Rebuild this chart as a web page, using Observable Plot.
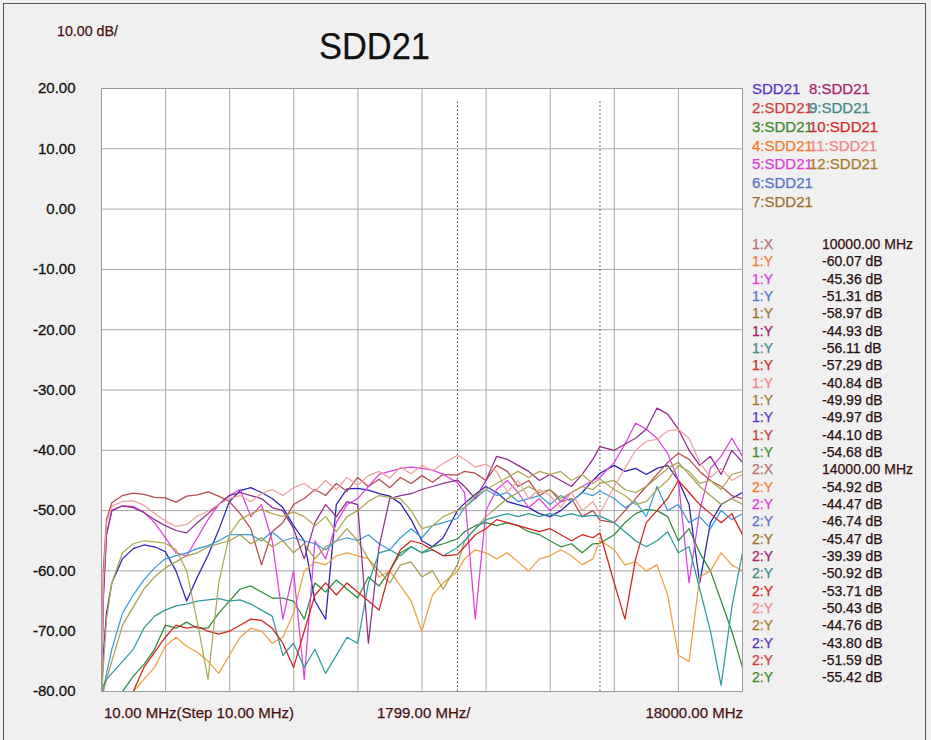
<!DOCTYPE html>
<html><head><meta charset="utf-8">
<script src="https://cdn.jsdelivr.net/npm/d3@7"></script>
<script src="https://cdn.jsdelivr.net/npm/@observablehq/plot@0.6"></script>
<style>
html,body{margin:0;padding:0;background:#f0f0f0;}
#wrap{position:relative;width:931px;height:740px;overflow:hidden;background:#f0f0f0;font-family:"Liberation Sans",Arial,sans-serif;}
#wrap svg{position:absolute;left:0;top:0;}
#wrap svg g[aria-label="y-axis tick label"] text{stroke:#111;stroke-width:0.3px;}
.t{position:absolute;white-space:nowrap;line-height:1;-webkit-text-stroke:0.25px currentColor;}
#border{position:absolute;left:3px;top:3px;width:923px;height:740px;border:1px solid #555;box-sizing:border-box;}
</style></head><body><div id="wrap"><div id="border"></div></div>
<script>
// ---------- DATA ----------
const freqs = [10, 60, 150, 300, 600, 900, 1200, 1500, 1800, 2100, 2400, 2700, 3000, 3300, 3600, 3900, 4200, 4500, 4800, 5100, 5400, 5700, 6000, 6300, 6600, 6900, 7200, 7500, 7800, 8100, 8400, 8700, 9000, 9300, 9600, 10000, 10200, 10500, 10800, 11100, 11400, 11700, 12000, 12300, 12600, 12900, 13200, 13500, 13800, 14000, 14400, 14700, 15000, 15300, 15600, 15900, 16200, 16500, 16800, 17100, 17400, 17700, 18000];

const sdd1 = [-81, -74, -67, -62, -58, -56.3, -55.7, -56, -56.8, -60, -65, -61, -57.4, -53.2, -48.5, -46.7, -46.2, -47, -48, -49.5, -52.5, -55, -65, -68, -49, -46.4, -46.3, -46.6, -47.2, -47.6, -48.8, -51.5, -55, -56, -54.5, -49.97, -48.8, -47.3, -46, -47, -48.5, -49, -49.5, -50.5, -51, -50, -48.5, -47, -45, -43.8, -42.5, -43.5, -43, -44, -43, -42.5, -45, -49, -62, -52, -49, -48, -47];
const sdd2 = [-81, -60, -51.5, -48.7, -47.5, -47.1, -47.3, -47.8, -47.9, -48.6, -47.6, -47.4, -46.9, -47.6, -48.5, -50.5, -53, -59, -53.5, -52, -49, -48, -46.5, -47.5, -45.5, -46.8, -44.5, -46, -44.8, -46.2, -44.5, -45.5, -44.2, -45.3, -44, -44.10, -43.5, -43.8, -45, -42.5, -43.5, -46, -45, -47.5, -46.5, -48.5, -48, -51, -50, -51.59, -52, -50, -48, -46, -44, -42, -40.5, -41.5, -43.5, -45, -46, -47.5, -48];
const sdd3 = [-81, -81, -81, -81, -80, -77.5, -75.5, -73, -69, -69.5, -68.5, -69.5, -69.5, -67, -65, -63, -62.5, -63.5, -64.5, -64.5, -65, -68, -62, -63.5, -61.5, -63, -64.5, -61, -62.5, -60, -57, -56, -57, -56, -55.5, -54.68, -53.5, -52.5, -52, -52.5, -52, -52.5, -53.5, -54, -55, -56, -55.5, -57, -55.5, -55.42, -54, -52, -50.5, -49.8, -50, -51, -55, -53, -57, -60, -65, -70, -76];
const sdd4 = [-81, -81, -81, -81, -81, -80, -78, -76, -72.5, -71, -72.5, -73.5, -75, -77, -74, -71, -69.5, -70, -72, -71, -67, -60, -58.5, -59, -57.5, -57, -57.5, -58, -61, -60, -62.5, -65, -70, -64, -62, -60.07, -58, -56.5, -57, -58, -57, -58.5, -60, -58, -57.5, -56.5, -57.5, -59, -58, -54.92, -56.5, -59, -58.5, -60, -59, -64, -74, -75, -61, -60, -57, -59, -60];
const sdd5 = [-81, -64, -54, -50, -49.2, -49.3, -50.3, -52, -54.5, -57, -57.5, -54.5, -51.5, -49, -47.5, -46.5, -51, -49, -55, -68, -60, -78, -55, -58, -52, -49, -48, -46, -44, -43.5, -43, -42.8, -43, -43.3, -44, -45.36, -47, -68, -50, -46.5, -45, -47, -49.5, -48, -50, -48.5, -47, -46, -45, -44.47, -42, -39, -35.5, -36.5, -38, -40.5, -45, -62, -50, -43, -41, -38, -41];
const sdd6 = [-81, -80, -77, -73, -67, -64, -61.5, -59.5, -58, -57.5, -57, -56.3, -55.8, -55, -54, -54, -54, -55, -53.5, -55, -54.5, -55, -55.5, -56.5, -55, -54.5, -55, -54, -55.5, -56.5, -54.5, -53, -54.5, -52.5, -52, -51.31, -49.5, -48, -46.5, -47.5, -47, -48.5, -48, -47.5, -49, -47.5, -48.5, -47, -47.5, -46.74, -48, -49.5, -48.5, -51, -46, -50, -49, -52, -51, -53, -50, -51.5, -50.5];
const sdd7 = [-81, -80, -78, -75, -69, -66, -63, -61, -59.5, -58.5, -57.5, -57, -56, -55.5, -55, -54, -55.5, -54.5, -56, -55, -57, -55.5, -58, -56, -55, -53, -55, -58, -60, -62, -59, -58.5, -61, -60, -63, -58.97, -55, -53, -51, -49.5, -48, -47, -46, -47, -46.5, -48, -47, -46, -46.5, -45.47, -45, -46.5, -47, -46, -44.5, -43, -42, -44, -46, -47.5, -49, -48, -49];
const sdd8 = [-81, -65, -54, -50, -49.2, -49.5, -50.3, -51.5, -52.5, -53.3, -53.7, -52, -50.5, -49, -47.5, -47, -47.5, -48, -49.5, -50, -53, -58, -52, -49, -51, -48.5, -49, -72, -56, -48, -47.5, -47.2, -46.5, -46, -45.5, -44.93, -46, -48, -45, -41, -41.5, -42.5, -43.5, -45, -44, -45, -46, -44, -41.5, -39.39, -40, -39, -38, -36.5, -33, -34, -36.5, -40, -42.5, -41, -44, -40, -42];
const sdd9 = [-81, -79, -78, -77, -75, -73, -69.5, -67.5, -66.5, -65.8, -65.5, -65, -64.8, -64.6, -65, -64.8, -65.5, -66.5, -67.5, -74, -72, -76, -73, -77, -74, -71, -72, -62, -57, -56.5, -57.5, -56, -57, -56.5, -57.5, -56.11, -55, -53, -51.5, -51, -50.5, -51, -50.5, -51, -50.5, -51, -50.5, -51, -50.8, -50.92, -52, -53.5, -55, -56, -55, -53.5, -57, -56, -63, -70, -79, -66, -57];
const sdd10 = [-81, -81, -81, -81, -81, -80, -76, -73.5, -71, -69, -69.5, -69.2, -70, -70.5, -70, -69, -68, -68.2, -69.5, -72, -76, -70, -64, -62, -64, -62, -63.5, -65, -66.5, -60, -56.5, -55, -55.5, -56.5, -57.5, -57.29, -56, -54, -53, -51.5, -52, -52.5, -53, -53.5, -53, -54, -55, -54, -54.5, -53.71, -62, -68, -58, -52, -50, -48, -45, -47, -49, -50.5, -52, -50.5, -54];
const sdd11 = [-81, -62, -52, -49.3, -48.5, -48.4, -49.1, -50.5, -51.7, -52.6, -52.3, -50.9, -50.1, -49, -48, -47.5, -48.5, -47.2, -46.5, -47.5, -46.2, -45.5, -46.8, -45, -46.5, -44.5, -45.8, -44.2, -43.5, -44.6, -42.8, -43.9, -42.5, -43.4, -42.2, -40.84, -41.5, -42.8, -42.3, -43.5, -47, -45, -48, -46.5, -47.5, -49.5, -47, -50, -48.5, -50.43, -46, -43, -40, -38.5, -38.2, -36.8, -36.5, -38, -42, -44.5, -43, -45, -44];
const sdd12 = [-81, -76, -68, -62, -57, -55.5, -55, -55.2, -55.4, -56.5, -60, -68.5, -78, -62, -54, -51.5, -50.5, -49.8, -50.5, -51, -50.2, -51, -52.5, -51, -53.5, -51, -50, -48.5, -47.5, -47.8, -48, -50, -53, -52.5, -51, -49.99, -49.5, -47.5, -46.5, -45.5, -44.5, -43.5, -44.5, -43.5, -44, -43.5, -45, -44, -45.5, -44.76, -46.5, -47.5, -49, -48.5, -46.5, -45, -42.5, -43.5, -45.5, -45, -46.5, -44, -43.5];

const series = [sdd1, sdd2, sdd3, sdd4, sdd5, sdd6, sdd7, sdd8, sdd9, sdd10, sdd11, sdd12];
const seriesNames = ["SDD21", "2:SDD21", "3:SDD21", "4:SDD21", "5:SDD21", "6:SDD21", "7:SDD21", "8:SDD21", "9:SDD21", "10:SDD21", "11:SDD21", "12:SDD21"];

const yTicks = [20, 10, 0, -10, -20, -30, -40, -50, -60, -70, -80];
const xGridTicks = [10, 1809, 3608, 5407, 7206, 9005, 10804, 12603, 14402, 16201, 18000];
const markerFreqs = [10000, 14000];
const markerTop = 18;
const markerOrder = [4, 5, 6, 7, 8, 9, 10, 11, 12, 1, 2, 3];
const marker1Values = [-60.07, -45.36, -51.31, -58.97, -44.93, -56.11, -57.29, -40.84, -49.99, -49.97, -44.10, -54.68];
const marker2Values = [-54.92, -44.47, -46.74, -45.47, -39.39, -50.92, -53.71, -50.43, -44.76, -43.80, -51.59, -55.42];
const xLabels = ["10.00 MHz(Step 10.00 MHz)", "1799.00 MHz/", "18000.00 MHz"];
const scaleLabel = "10.00 dB/";
const titleText = "SDD21";

// ---------- STYLE ----------
const lineColors = ["#2b22b5", "#b84a4a", "#2e8b3a", "#f0a040", "#e040e0", "#3b9bd5", "#a5a050", "#8e2e8e", "#2e9a9a", "#d42020", "#f0a0a0", "#b0a850"];
const textColors = ["#5b33c8", "#d23c3c", "#3f8a2a", "#f07d2d", "#e03ad8", "#5573c5", "#a06e28", "#a8206e", "#3f8888", "#d42828", "#f08585", "#a87a28"];

// ---------- CHART ----------
const rows = [];
series.forEach((vals, k) => vals.forEach((v, i) => rows.push({f: freqs[i], db: v, s: k})));

const lineMarks = series.map((vals, k) =>
  Plot.line(rows.filter(r => r.s === k), {x: "f", y: "db", stroke: lineColors[k], strokeWidth: 1.25, clip: true})
);

const chart = Plot.plot({
  width: 931, height: 740,
  marginLeft: 101, marginRight: 189, marginTop: 88, marginBottom: 49,
  x: {domain: [10, 18000], axis: null},
  y: {domain: [-80, 20], ticks: yTicks, tickFormat: d => d.toFixed(2), tickSize: 0, tickPadding: 26, label: null},
  style: {background: "transparent", fontSize: "15px", color: "#111", fontFamily: "'Liberation Sans', Arial, sans-serif"},
  marks: [
    Plot.frame({fill: "white", stroke: "none"}),
    Plot.ruleX(xGridTicks, {stroke: "#a8a8a8", strokeWidth: 1}),
    Plot.ruleY(yTicks, {stroke: "#a8a8a8", strokeWidth: 1}),
    Plot.ruleX(markerFreqs, {y1: -80, y2: markerTop, stroke: "#444", strokeDasharray: "1.5,2.5", strokeWidth: 1}),
    ...lineMarks,
    Plot.frame({stroke: "#999"})
  ]
});
const wrap = document.getElementById("wrap");
wrap.appendChild(chart);

function addText(txt, x, cy, size, color, opts = {}) {
  const d = document.createElement("div");
  d.className = "t";
  d.textContent = txt;
  d.style.fontSize = size + "px";
  d.style.color = color;
  d.style.top = (cy - 0.49 * size) + "px";
  if (opts.right) { d.style.right = (931 - x) + "px"; } else { d.style.left = x + "px"; }
  if (opts.scaleX) { d.style.transform = `scaleX(${opts.scaleX})`; d.style.transformOrigin = "left center"; }
  wrap.appendChild(d);
  return d;
}

// header texts
addText(scaleLabel, 57, 30, 15, "#4a1010", {scaleX: 0.95});
addText(titleText, 319, 46, 37, "#111", {scaleX: 0.93});

// x labels
addText(xLabels[0], 104, 712, 15, "#4a1010");
addText(xLabels[1], 377, 712, 15, "#4a1010");
addText(xLabels[2], 743, 712, 15, "#4a1010", {right: true});

// legend (two columns)
const legendRows = [88, 107, 126, 145, 163, 182, 201];
seriesNames.forEach((name, k) => {
  const col = k < 7 ? 0 : 1;
  const row = k < 7 ? k : k - 7;
  addText(name, col === 0 ? 752 : 809, legendRows[row], 15, textColors[k]);
});

// marker table
const rowGap = 17.32;
let r = 0;
[marker1Values, marker2Values].forEach((vals, m) => {
  const y0 = 244 + r * rowGap;
  addText((m + 1) + ":X", 752, y0, 14, "#b87070");
  addText(markerFreqs[m].toFixed(2) + " MHz", 822, y0, 14, "#3a1010");
  r++;
  vals.forEach((v, j) => {
    const yy = 244 + r * rowGap;
    addText((m + 1) + ":Y", 752, yy, 14, textColors[markerOrder[j] - 1]);
    addText(v.toFixed(2) + " dB", 822, yy, 14, "#2a1010");
    r++;
  });
});
</script>
</body></html>
